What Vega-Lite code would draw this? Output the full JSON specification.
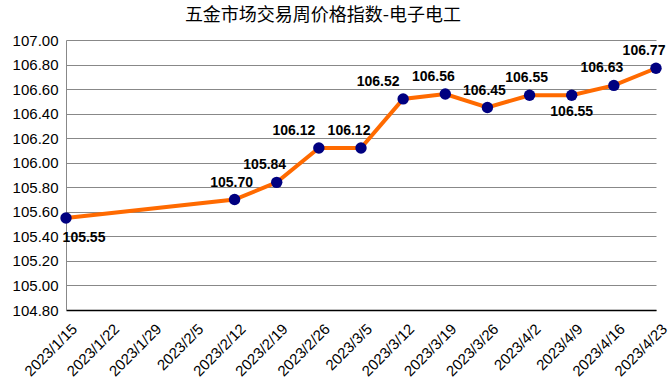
{
  "$schema": "https://vega.github.io/schema/vega-lite/v6.json",
  "width": 590,
  "height": 270,
  "autosize": {"type": "none"},
  "padding": {"left": 66, "top": 40, "right": 16, "bottom": 80},
  "background": "white",
  "title": {
    "text": "五金市场交易周价格指数-电子电工",
    "font": "Noto Sans CJK SC",
    "fontSize": 18,
    "fontWeight": "normal",
    "color": "#000000",
    "anchor": "middle",
    "dx": -38,
    "offset": 8
  },
  "data": {
    "values": [
      {"date": "2023/1/15", "value": 105.55, "pos": "right-below"},
      {"date": "2023/2/12", "value": 105.70, "pos": "above-center"},
      {"date": "2023/2/19", "value": 105.84, "pos": "above"},
      {"date": "2023/2/26", "value": 106.12, "pos": "above-left"},
      {"date": "2023/3/5", "value": 106.12, "pos": "above"},
      {"date": "2023/3/12", "value": 106.52, "pos": "above-left"},
      {"date": "2023/3/19", "value": 106.56, "pos": "above"},
      {"date": "2023/3/26", "value": 106.45, "pos": "above-center"},
      {"date": "2023/4/2", "value": 106.55, "pos": "above-center"},
      {"date": "2023/4/9", "value": 106.55, "pos": "below"},
      {"date": "2023/4/16", "value": 106.63, "pos": "above"},
      {"date": "2023/4/23", "value": 106.77, "pos": "above"}
    ]
  },
  "encoding": {
    "x": {
      "field": "date",
      "type": "ordinal",
      "sort": null,
      "scale": {
        "type": "point",
        "padding": 0,
        "domain": ["2023/1/15", "2023/1/22", "2023/1/29", "2023/2/5", "2023/2/12", "2023/2/19", "2023/2/26", "2023/3/5", "2023/3/12", "2023/3/19", "2023/3/26", "2023/4/2", "2023/4/9", "2023/4/16", "2023/4/23"]
      },
      "axis": {
        "title": null,
        "labelAngle": -45,
        "labelAlign": "right",
        "labelBaseline": "middle",
        "labelFont": "Liberation Sans",
        "labelFontSize": 15,
        "labelColor": "#000000",
        "labelPadding": 16,
        "labelOffset": 8,
        "ticks": false,
        "domainColor": "#000000",
        "domainWidth": 1.5,
        "grid": false
      }
    },
    "y": {
      "field": "value",
      "type": "quantitative",
      "scale": {"domain": [104.8, 107.0], "zero": false, "nice": false},
      "axis": {
        "title": null,
        "values": [104.8, 105.0, 105.2, 105.4, 105.6, 105.8, 106.0, 106.2, 106.4, 106.6, 106.8, 107.0],
        "format": ".2f",
        "labelFont": "Liberation Sans",
        "labelFontSize": 15,
        "labelColor": "#000000",
        "labelPadding": 8,
        "ticks": false,
        "domainColor": "#888888",
        "grid": true,
        "gridColor": "#888888",
        "gridWidth": 1
      }
    }
  },
  "layer": [
    {"mark": {"type": "line", "color": "#FF6A00", "strokeWidth": 4}},
    {"mark": {"type": "point", "filled": true, "color": "#000080", "size": 130, "opacity": 1}},
    {
      "transform": [{"filter": "datum.pos === 'above'"}],
      "mark": {"type": "text", "font": "Liberation Sans", "fontSize": 14, "fontWeight": "bold", "color": "#000000", "dy": -17, "dx": -12},
      "encoding": {"text": {"field": "value", "type": "quantitative", "format": ".2f"}}
    },
    {
      "transform": [{"filter": "datum.pos === 'above-left'"}],
      "mark": {"type": "text", "font": "Liberation Sans", "fontSize": 14, "fontWeight": "bold", "color": "#000000", "dy": -17, "dx": -25},
      "encoding": {"text": {"field": "value", "type": "quantitative", "format": ".2f"}}
    },
    {
      "transform": [{"filter": "datum.pos === 'above-center'"}],
      "mark": {"type": "text", "font": "Liberation Sans", "fontSize": 14, "fontWeight": "bold", "color": "#000000", "dy": -17, "dx": -3},
      "encoding": {"text": {"field": "value", "type": "quantitative", "format": ".2f"}}
    },
    {
      "transform": [{"filter": "datum.pos === 'below'"}],
      "mark": {"type": "text", "font": "Liberation Sans", "fontSize": 14, "fontWeight": "bold", "color": "#000000", "dy": 17},
      "encoding": {"text": {"field": "value", "type": "quantitative", "format": ".2f"}}
    },
    {
      "transform": [{"filter": "datum.pos === 'right-below'"}],
      "mark": {"type": "text", "font": "Liberation Sans", "fontSize": 14, "fontWeight": "bold", "color": "#000000", "dy": 20, "dx": 18},
      "encoding": {"text": {"field": "value", "type": "quantitative", "format": ".2f"}}
    }
  ],
  "config": {"view": {"stroke": null}}
}
